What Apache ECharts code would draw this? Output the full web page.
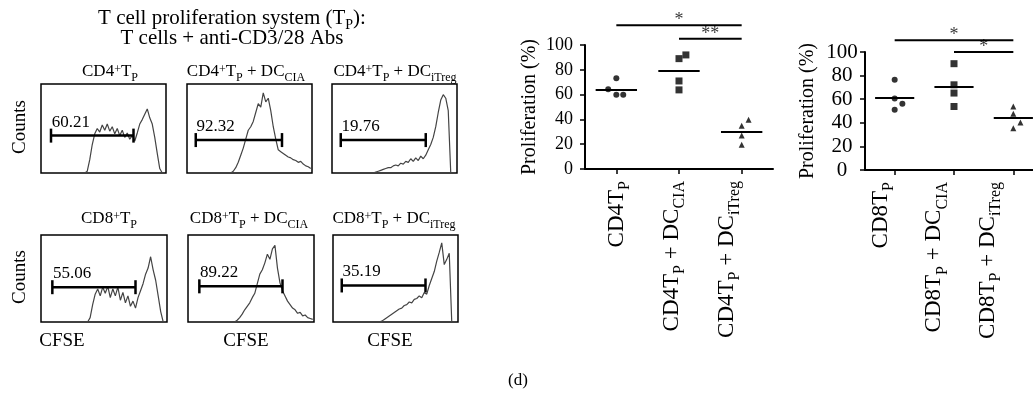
<!DOCTYPE html>
<html>
<head>
<meta charset="utf-8">
<script src="https://cdn.jsdelivr.net/npm/echarts@6/dist/echarts.min.js"></script>
<style>
  html, body { margin: 0; padding: 0; background: #fff; }
  #chart { width: 1033px; height: 395px; }
</style>
</head>
<body>
<div id="chart"></div>
<script>
const FONT = 'Liberation Serif';

// CFSE histograms: 50 bins across each panel, counts as % of panel height
const histCD4Tp = [
  0, 0, 0, 0, 0, 0, 0, 0, 0, 0,
  0, 0, 0, 0, 0, 0, 0, 0, 2, 15,
  32, 44, 50, 46, 54, 48, 55, 47, 52, 44,
  50, 42, 48, 40, 45, 38, 42, 36, 45, 55,
  60, 66, 72, 62, 55, 40, 22, 5, 0, 0
];
const histCD4Cia = [
  0, 0, 0, 0, 0, 0, 0, 0, 0, 0,
  0, 0, 0, 0, 0, 0, 0, 0, 2, 6,
  12, 20, 28, 38, 48, 52, 58, 68, 78, 74,
  90, 80, 84, 70, 52, 38, 26, 24, 22, 20,
  18, 17, 15, 14, 12, 13, 10, 8, 7, 5
];
const histCD4Itreg = [
  0, 0, 0, 0, 0, 0, 0, 0, 0, 0,
  0, 0, 0, 0, 0, 0, 0, 1, 2, 3,
  4, 5, 6, 6, 8, 9, 8, 11, 10, 13,
  12, 16, 13, 17, 14, 19, 16, 20, 26, 32,
  40, 52, 68, 82, 88, 84, 70, 0, 0, 0
];
const histCD8Tp = [
  0, 0, 0, 0, 0, 0, 0, 0, 0, 0,
  0, 0, 0, 0, 0, 0, 0, 0, 0, 5,
  20, 32, 38, 30, 40, 33, 41, 28, 38, 30,
  40, 25, 34, 22, 30, 18, 24, 16, 28, 36,
  44, 55, 62, 75, 60, 48, 30, 12, 0, 0
];
const histCD8Cia = [
  0, 0, 0, 0, 0, 0, 0, 0, 0, 0,
  0, 0, 0, 0, 0, 0, 0, 0, 0, 2,
  5, 9, 14, 18, 22, 28, 33, 44, 55, 60,
  68, 78, 72, 84, 88, 62, 45, 36, 30, 24,
  20, 16, 14, 10, 11, 7, 8, 5, 4, 3
];
const histCD8Itreg = [
  0, 0, 0, 0, 0, 0, 0, 0, 0, 0,
  0, 0, 0, 0, 0, 0, 0, 0, 0, 1,
  3, 5, 7, 9, 11, 13, 15, 16, 19, 20,
  23, 22, 26, 27, 30, 28, 34, 32, 42, 50,
  58, 70, 80, 91, 66, 72, 79, 0, 0, 0
];
const hists = [histCD4Tp, histCD4Cia, histCD4Itreg, histCD8Tp, histCD8Cia, histCD8Itreg];

// gates (bin units) and their percentages
const gateValues = ['60.21', '92.32', '19.76', '55.06', '89.22', '35.19'];
const gateFrom = [4, 3.5, 3.5, 4.5, 4.5, 3.5];
const gateTo = [37, 38, 37.5, 37.5, 37.5, 37];
const gateLevel = [42, 37, 37, 40, 41, 42];

// proliferation (%) per group, 4 mice each
const cd4Groups = ['{n|CD4T}{s|P}', '{n|CD4T}{s|P}{n| + DC}{s|CIA}', '{n|CD4T}{s|P}{n| + DC}{s|iTreg}'];
const cd4Values = [[73.2, 64.3, 59.8, 59.8], [71.0, 63.8, 89.0, 92.0], [19.6, 27.1, 34.9, 39.7]];
const cd4Jitter = [[0, -0.13, 0, 0.11], [0, 0, 0, 0.11], [0, 0, 0, 0.11]];
const cd8Groups = ['{n|CD8T}{s|P}', '{n|CD8T}{s|P}{n| + DC}{s|CIA}', '{n|CD8T}{s|P}{n| + DC}{s|iTreg}'];
const cd8Values = [[76.5, 60.6, 56.1, 51.0], [90.1, 72.2, 65.2, 53.8], [53.8, 47.6, 40.2, 35.4]];
const cd8Jitter = [[0, 0, 0.13, 0], [0, 0, 0, 0], [0, 0, 0.12, 0]];
const groupSymbols = ['circle', 'rect', 'triangle'];

// significance bars: [from, to, level, stars]
const cd4Sig = [[0, 2, 116, '*'], [1, 2, 105, '**']];
const cd8Sig = [[0, 2, 110, '*'], [1, 2, 100, '*']];

const chart = echarts.init(document.getElementById('chart'));

const histBoxes = [
  [41, 84, 125, 89], [187, 84, 125, 89], [332, 84, 125, 89],
  [41, 235, 126, 87], [188, 235, 126, 87], [333, 235, 125, 87]
];

const grids = [];
const xAxes = [];
const yAxes = [];
const series = [];

histBoxes.forEach((b, i) => {
  grids.push({ left: b[0], top: b[1], width: b[2], height: b[3], show: true,
    outerBoundsMode: 'none',
    borderColor: '#000', borderWidth: 1.5, backgroundColor: 'transparent' });
  xAxes.push({ gridIndex: i, type: 'value', min: 0, max: 50, show: false });
  yAxes.push({ gridIndex: i, type: 'value', min: 0, max: 100, show: false });
  series.push({
    type: 'line', xAxisIndex: i, yAxisIndex: i, symbol: 'none', silent: true,
    data: hists[i].map((v, k) => [k + 0.5, v]),
    lineStyle: { color: '#444', width: 1.2 }
  });
  series.push({
    type: 'line', xAxisIndex: i, yAxisIndex: i, silent: true,
    symbol: 'rect', symbolSize: [2.5, 14],
    itemStyle: { color: '#000' },
    lineStyle: { color: '#000', width: 2.5 },
    data: [
      { value: [gateFrom[i], gateLevel[i]],
        label: { show: true, formatter: gateValues[i], position: [2, -15],
          fontFamily: FONT, fontSize: 17, color: '#000' } },
      [gateTo[i], gateLevel[i]]
    ]
  });
});

// rich styles: n = normal, s = subscript, p = superscript
function subLineHeight(size) {
  return Math.round(size * 1.2);
}
function richStyles(size, colorKey) {
  const small = Math.round(size * 0.68);
  const n = { fontFamily: FONT, fontSize: size, lineHeight: size, verticalAlign: 'top' };
  const s = { fontFamily: FONT, fontSize: small, lineHeight: subLineHeight(size), verticalAlign: 'bottom' };
  const p = { fontFamily: FONT, fontSize: small, lineHeight: small, verticalAlign: 'top' };
  [n, s, p].forEach(o => { o[colorKey] = '#000'; });
  return { n, s, p };
}

function addScatterPlot(box, groups, values, jitter, sig, yLab, labelRange) {
  const gi = grids.length;
  const xi = xAxes.length;
  grids.push({ left: box[0], top: box[1], width: box[2], height: box[3], outerBoundsMode: 'none' });
  xAxes.push({
    gridIndex: gi, type: 'value', min: -0.5, max: 2.5, position: 'bottom',
    axisLine: { show: true, lineStyle: { color: '#000', width: 2 } },
    axisTick: { show: true, customValues: [0, 1, 2], length: 5, lineStyle: { color: '#000', width: 1.5 } },
    axisLabel: { show: false },
    splitLine: { show: false }
  });
  // group names sit a little left of their ticks in the original figure
  xAxes.push({
    gridIndex: gi, type: 'value', min: labelRange[0], max: labelRange[1], position: 'bottom',
    axisLine: { show: false }, axisTick: { show: false }, splitLine: { show: false },
    axisLabel: { customValues: [0, 1, 2], rotate: 90, margin: 12,
      formatter: v => groups[Math.round(v)], rich: richStyles(23, 'color') }
  });
  yAxes.push({
    gridIndex: gi, type: 'value', min: 0, max: 100, interval: 20,
    name: 'Proliferation (%)', nameLocation: 'middle', nameGap: yLab.nameGap,
    nameTextStyle: { fontFamily: FONT, fontSize: 20, color: '#000' },
    axisLine: { show: true, onZero: false, lineStyle: { color: '#000', width: 2 } },
    axisTick: { show: true, length: 5, lineStyle: { color: '#000', width: 1.5 } },
    axisLabel: { fontFamily: FONT, fontSize: yLab.size, color: '#000',
      margin: yLab.margin, align: yLab.align },
    splitLine: { show: false }
  });
  values.forEach((vals, g) => {
    const mean = vals.reduce((a, c) => a + c, 0) / vals.length;
    series.push({
      type: 'scatter', xAxisIndex: xi, yAxisIndex: gi, silent: true,
      symbol: groupSymbols[g], symbolSize: g === 1 ? 7 : 6,
      itemStyle: { color: '#000' },
      data: vals.map((v, k) => [g + jitter[g][k], v]),
      markLine: {
        silent: true, symbol: 'none', label: { show: false },
        lineStyle: { color: '#000', width: 2, type: 'solid' },
        data: [[{ coord: [g - 0.33, mean] }, { coord: [g + 0.33, mean] }]]
      }
    });
  });
  sig.forEach(s => {
    series.push({
      type: 'line', xAxisIndex: xi, yAxisIndex: gi, silent: true, clip: false,
      symbol: 'none', lineStyle: { color: '#000', width: 2 },
      data: [[s[0], s[2]], [s[1], s[2]]]
    });
    series.push({
      type: 'scatter', xAxisIndex: xi, yAxisIndex: gi, silent: true, clip: false,
      symbolSize: 1, itemStyle: { color: 'rgba(0,0,0,0)' },
      label: { show: true, position: 'top', distance: -5, formatter: p => p.value[2],
        fontFamily: FONT, fontSize: 18, color: '#000' },
      data: [[(s[0] + s[1]) / 2, s[2], s[3]]]
    });
  });
}

addScatterPlot([585, 45, 188, 124], cd4Groups, cd4Values, cd4Jitter, cd4Sig,
  { size: 18, margin: 12, align: 'right', nameGap: 45 }, [-0.618, 2.8]);
addScatterPlot([865, 52, 178, 118], cd8Groups, cd8Values, cd8Jitter, cd8Sig,
  { size: 21, margin: 23, align: 'center', nameGap: 47 }, [-0.336, 2.99]);

function txt(x, y, text, size, rot) {
  // a subscript makes the text box taller; keep the main glyphs on y
  const shift = text.indexOf('{s|') >= 0 ? (subLineHeight(size) - size) / 2 : 0;
  return {
    type: 'text', x: x, y: y + shift, rotation: rot || 0, silent: true,
    style: { text: text, align: 'center', verticalAlign: 'middle',
      fontFamily: FONT, fontSize: size, fill: '#000', rich: richStyles(size, 'fill') }
  };
}

const graphics = [
  txt(232, 18, '{n|T cell proliferation system (T}{s|P}{n|):}', 21),
  txt(232, 38, '{n|T cells + anti-CD3/28 Abs}', 21),
  txt(110, 72, '{n|CD4}{p|+}{n|T}{s|P}', 17),
  txt(246, 72, '{n|CD4}{p|+}{n|T}{s|P}{n| + DC}{s|CIA}', 17),
  txt(395, 72, '{n|CD4}{p|+}{n|T}{s|P}{n| + DC}{s|iTreg}', 17),
  txt(109, 219, '{n|CD8}{p|+}{n|T}{s|P}', 17),
  txt(249, 219, '{n|CD8}{p|+}{n|T}{s|P}{n| + DC}{s|CIA}', 17),
  txt(394, 219, '{n|CD8}{p|+}{n|T}{s|P}{n| + DC}{s|iTreg}', 17),
  txt(20, 127, '{n|Counts}', 19, Math.PI / 2),
  txt(20, 277, '{n|Counts}', 19, Math.PI / 2),
  txt(62, 341, '{n|CFSE}', 19),
  txt(246, 341, '{n|CFSE}', 19),
  txt(390, 341, '{n|CFSE}', 19),
  txt(518, 381, '{n|(d)}', 17)
];

chart.setOption({
  animation: false,
  backgroundColor: '#fff',
  textStyle: { fontFamily: FONT },
  grid: grids,
  xAxis: xAxes,
  yAxis: yAxes,
  series: series,
  graphic: graphics
});
</script>
</body>
</html>
